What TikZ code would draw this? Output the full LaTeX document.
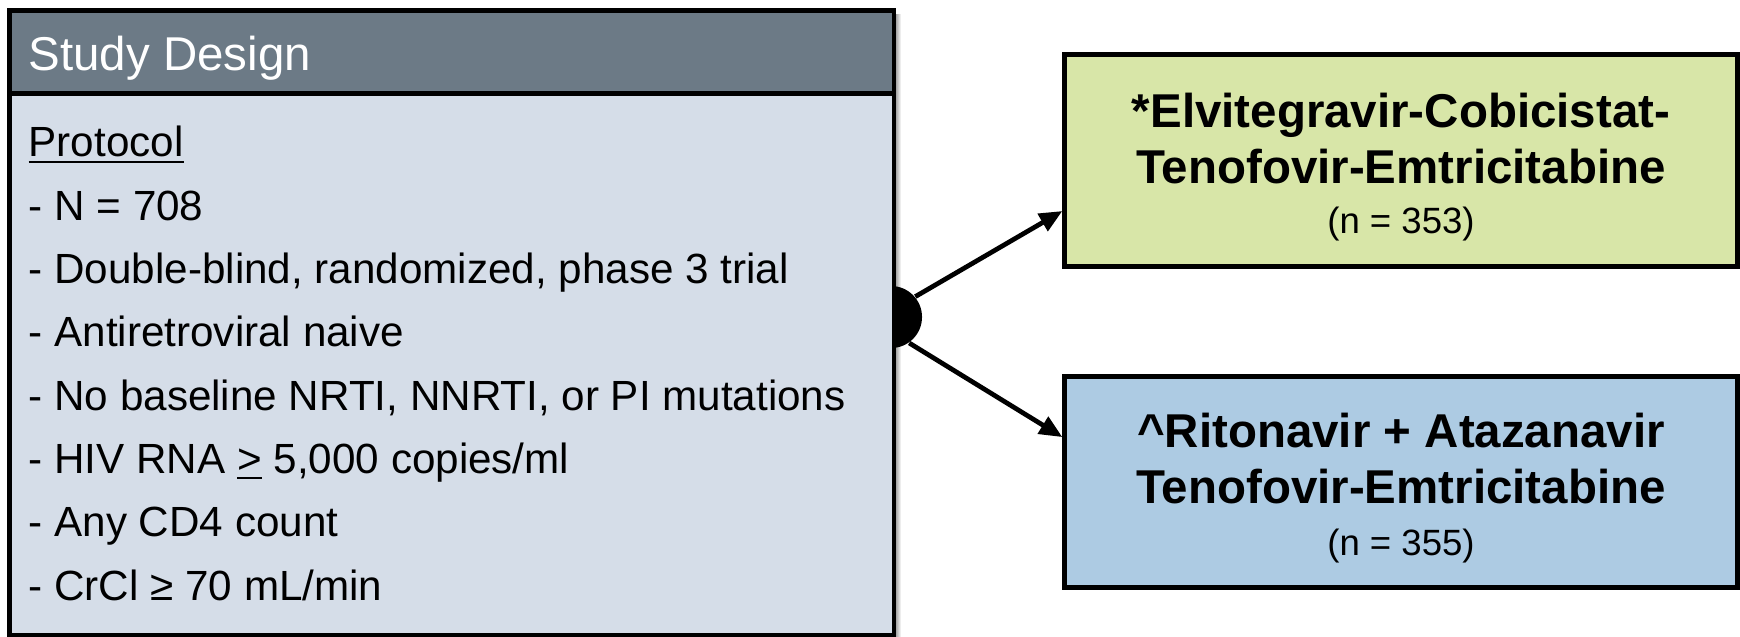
\documentclass[tikz,border=0pt]{standalone}
\usepackage{fontspec}
\setmainfont{Liberation Sans}
\definecolor{headgray}{RGB}{108, 122, 134}
\definecolor{bodyblue}{RGB}{213, 221, 232}
\definecolor{armgreen}{RGB}{216, 230, 168}
\definecolor{armblue}{RGB}{173, 203, 227}
\usetikzlibrary{shapes, arrows.meta, positioning, calc}

\begin{document}
\begin{tikzpicture}[
    x=0.01cm, y=-0.01cm,
    arr/.style={-{Triangle[length=6.5pt, width=5.5pt]}, line width=1.35pt},
    panel/.style={draw, line width=1.4pt, anchor=north west, inner sep=0},
    item/.style={anchor=base west, inner sep=0, font=\fontsize{12}{14}\selectfont},
    armbox/.style={draw, line width=1.4pt, minimum width=6.72cm,
                   minimum height=2.11cm, align=center,
                   font=\fontsize{13.5}{15.9}\selectfont\bfseries}
  ]
    \useasboundingbox (0,0) rectangle (1740,636);

    % shadow and split point behind the design box
    \shade[left color=black!55, right color=white] (893,14) rectangle (901,636);
    \node[circle, fill=black, minimum size=0.62cm, inner sep=0] (dot) at (891,317) {};

    \node[panel, fill=bodyblue, minimum width=8.84cm, minimum height=6.25cm]
          (design) at (7,8) {};
    \node[panel, fill=headgray, minimum width=8.84cm, minimum height=0.83cm]
          (head) at (7,8) {};
    \node[anchor=base west, inner sep=0, text=white,
          font=\fontsize{13.5}{16}\selectfont] (title) at (28,70.5) {Study Design};

    \node[item] (proto) at (28,156.5) {\underline{Protocol}};
    \node[item] (nval)  at (28,220)   {- N = 708};
    \node[item] (blind) at (28,283)   {- Double-blind, randomized, phase 3 trial};
    \node[item] (naive) at (28,346.5) {- Antiretroviral naive};
    \node[item] (mut)   at (28,410)   {- No baseline NRTI, NNRTI, or PI mutations};
    \node[item] (rna)   at (28,473)   {- HIV RNA \underline{>} 5,000 copies/ml};
    \node[item] (cdfour) at (28,536.5) {- Any CD4 count};
    \node[item] (crcl)  at (28,600)   {- CrCl ≥ 70 mL/min};

    \node[armbox, fill=armgreen] (elv) at (1401,160.5)
          {\rule{0pt}{13.6pt}*Elvitegravir-Cobicistat-\\Tenofovir-Emtricitabine\\[-1.6pt]
           {\fontsize{10.4}{12}\mdseries (n = 353)}};
    \node[armbox, fill=armblue, below=1.05cm of elv] (atv)
          {\rule{0pt}{13.6pt}\textasciicircum Ritonavir + Atazanavir\\Tenofovir-Emtricitabine\\[-1.2pt]
           {\fontsize{10.4}{12}\mdseries (n = 355)}};

    \draw[arr] (dot.40) -- ([yshift=-0.505cm]elv.west);
    \draw[arr] (dot.-55) -- ([yshift=0.445cm]atv.west);
  \end{tikzpicture}
\end{document}
